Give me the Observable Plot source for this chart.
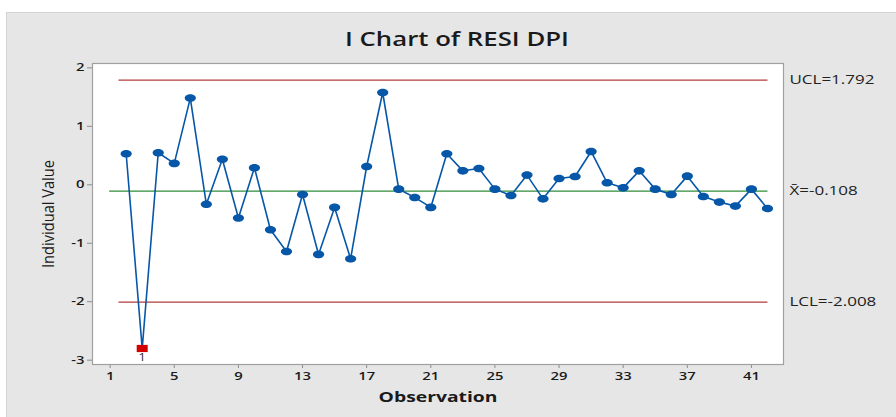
<!DOCTYPE html>
<html>
<head>
<meta charset="utf-8">
<script src="https://cdn.jsdelivr.net/npm/d3@7"></script>
<script src="https://cdn.jsdelivr.net/npm/@observablehq/plot@0.6"></script>
<style>
  html, body { margin: 0; padding: 0; background: #ffffff; }
  #wrap { position: relative; width: 896px; height: 417px; overflow: hidden; }
  #panel { position: absolute; left: 6px; top: 12px; width: 900px; height: 420px; background: #e6e6e6; border-left: 1px solid #d4d4d4; border-top: 1px solid #d4d4d4; }
  #title { position: absolute; left: 0; width: 914px; top: 27px; text-align: center; font-family: "Open Sans", sans-serif; font-weight: 600; font-size: 20px; line-height: 24px; color: #1a1a1a; }
  #title span { display: inline-block; transform-origin: 50% 50%; }
  #chart { position: absolute; left: 0; top: 0; }
</style>
</head>
<body>
<div id="wrap">
  <div id="panel"></div>
  <div id="title"><span>I Chart of RESI DPI</span></div>
  <div id="chart"></div>
</div>
<script>
// Observation numbers and individual values (RESI DPI)
const observations = [2,3,4,5,6,7,8,9,10,11,12,13,14,15,16,17,18,19,20,21,22,23,24,25,26,27,28,29,30,31,32,33,34,35,36,37,38,39,40,41,42];
const values = [0.531,-2.80,0.548,0.366,1.483,-0.332,0.437,-0.569,0.291,-0.769,-1.141,-0.166,-1.191,-0.387,-1.266,0.313,1.579,-0.074,-0.216,-0.387,0.531,0.239,0.279,-0.074,-0.183,0.166,-0.24,0.108,0.142,0.570,0.034,-0.052,0.239,-0.074,-0.166,0.148,-0.2,-0.296,-0.364,-0.074,-0.406];
const outOfControl = [3];
const ucl = 1.792;
const centerLine = -0.108;
const lcl = -2.008;
const limitLabels = ["UCL=1.792", "X\u0304=-0.108", "LCL=-2.008"];
const xTicks = [1,5,9,13,17,21,25,29,33,37,41];
const yTicks = [-3,-2,-1,0,1,2];
const xLabel = "Observation";
const yLabel = "Individual Value";

const data = observations.map((o, i) => ({obs: o, value: values[i], flag: outOfControl.includes(o)}));
const limits = [
  {name: "UCL", value: ucl, x1: 1.52, x2: 42, label: limitLabels[0], color: "#b23b3b"},
  {name: "CL", value: centerLine, x1: 0.94, x2: 42, label: limitLabels[1], color: "#2f8c3a"},
  {name: "LCL", value: lcl, x1: 1.52, x2: 42, label: limitLabels[2], color: "#b23b3b"}
];

const k = 0.5523;
const ellipse = {draw(ctx) {
  const rx = 5.6, ry = 3.8;
  ctx.moveTo(rx, 0);
  ctx.bezierCurveTo(rx, ry * k, rx * k, ry, 0, ry);
  ctx.bezierCurveTo(-rx * k, ry, -rx, ry * k, -rx, 0);
  ctx.bezierCurveTo(-rx, -ry * k, -rx * k, -ry, 0, -ry);
  ctx.bezierCurveTo(rx * k, -ry, rx, -ry * k, rx, 0);
  ctx.closePath();
}};
const square = {draw(ctx) { ctx.rect(-5.5, -3.6, 11, 7.2); }};

const chart = Plot.plot({
  width: 896,
  height: 417,
  marginLeft: 92,
  marginRight: 113,
  marginTop: 63,
  marginBottom: 53,
  style: {background: "transparent", fontFamily: "'Open Sans', sans-serif", fontSize: "11px", fontWeight: 600, color: "#1a1a1a"},
  x: {domain: [-0.1, 43.0]},
  y: {domain: [-3.074, 2.075]},
  marks: [
    Plot.frame({fill: "white", stroke: "none"}),
    Plot.axisX({ticks: xTicks, tickSize: 4, tickPadding: 4, stroke: "#8c8c8c", label: null, fontSize: 11}),
    Plot.axisY({ticks: yTicks, tickSize: 5, tickPadding: 3, stroke: "#8c8c8c", label: null, fontSize: 11, tickFormat: d => String(d)}),
    Plot.link(limits, {x1: "x1", x2: "x2", y1: "value", y2: "value", stroke: "color", strokeWidth: 1.3}),
    Plot.text(limits, {x: 42, y: "value", text: "label", dx: 22, textAnchor: "start", fontSize: 12, fontWeight: 400, fill: "#222"}),
    Plot.line(data, {x: "obs", y: "value", stroke: "#0757a8", strokeWidth: 1.6}),
    Plot.dot(data.filter(d => !d.flag), {x: "obs", y: "value", symbol: ellipse, fill: "#0757a8", stroke: "none"}),
    Plot.dot(data.filter(d => d.flag), {x: "obs", y: "value", symbol: square, fill: "#d40000", stroke: "none"}),
    Plot.text(data.filter(d => d.flag), {x: "obs", y: "value", text: () => "1", dy: 9, fontSize: 10, fontWeight: 400, fill: "#333"}),
    Plot.frame({stroke: "#a0a0a0", strokeWidth: 1.2}),
    Plot.text([xLabel], {frameAnchor: "bottom", lineAnchor: "middle", textAnchor: "middle", dy: 33, fontSize: 15, fontWeight: 700, fill: "#1a1a1a"}),
    Plot.text([yLabel], {frameAnchor: "left", lineAnchor: "middle", textAnchor: "middle", dx: -44, rotate: -90, fontSize: 13, fontWeight: 400, fill: "#1a1a1a"})
  ]
});
document.getElementById("chart").appendChild(chart);

// Mimic the horizontally stretched look of the reference text
function stretch(el, sx, sy) {
  let t = el.getAttribute("transform") || "";
  const isEm = v => v !== null && /em$/.test(v.trim());
  const x = el.getAttribute("x"), y = el.getAttribute("y");
  const moveX = x !== null && !isEm(x), moveY = y !== null && !isEm(y);
  if (moveX || moveY) {
    t += ` translate(${moveX ? +x || 0 : 0},${moveY ? +y || 0 : 0})`;
    if (moveX) el.removeAttribute("x");
    if (moveY) el.removeAttribute("y");
  }
  el.setAttribute("transform", `${t} scale(${sx},${sy})`);
}
function textWidth(el) {
  let w = 0;
  try { w = el.getComputedTextLength(); } catch (e) {}
  if (!w) { try { w = el.getBBox().width; } catch (e) {} }
  return w;
}
const allTexts = Array.from(chart.getElementsByTagName("text"));
let limitScale = null;
allTexts.forEach(el => {
  const s = (el.textContent || "").trim();
  try {
    if (s === xLabel) {
      const w = textWidth(el);
      stretch(el, w ? 119 / w : 1.3, 1);
    } else if (s === yLabel) {
      const w = textWidth(el);
      stretch(el, w ? 108 / w : 1.2, 1.25);
    } else if (limitLabels.includes(s)) {
      if (limitScale === null) {
        const w = textWidth(el);
        limitScale = (s === limitLabels[0] && w) ? 85 / w : 1.4;
      }
      stretch(el, limitScale, 1);
    } else {
      stretch(el, 1.35, 1);
    }
  } catch (e) {}
});

const span = document.querySelector("#title span");
span.style.transform = `scaleX(${224 / span.offsetWidth})`;
</script>
</body>
</html>
